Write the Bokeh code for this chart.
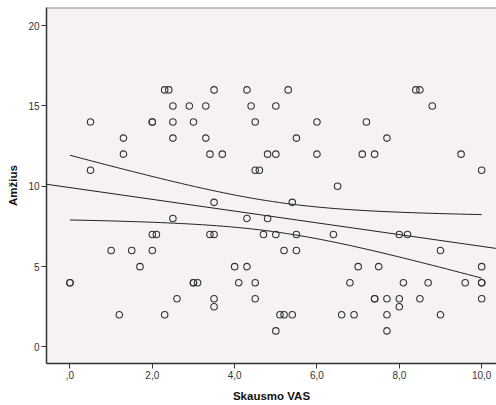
import numpy as np
from bokeh.plotting import figure
from bokeh.models import Range1d, FixedTicker, Span
from bokeh.embed import file_html
from bokeh.resources import INLINE

# Data (Skausmo VAS vs Amžius)
vas = [2.3, 2.4, 3.5, 4.3, 5.3, 8.4, 8.5,
       2.5, 2.9, 3.3, 4.4, 5.0, 8.8,
       0.5, 2.0, 2.0, 2.5, 3.0, 4.5, 6.0, 7.2,
       1.3, 2.5, 3.3, 5.5, 7.7,
       1.3, 3.4, 3.7, 4.8, 5.0, 6.0, 7.1, 7.4, 9.5,
       0.5, 4.5, 4.6, 10.0,
       6.5,
       3.5, 5.4,
       2.5, 4.3, 4.8,
       2.0, 2.1, 3.4, 3.5, 4.7, 5.0, 5.5, 6.4, 8.0, 8.2,
       1.0, 1.5, 2.0, 5.2, 5.5, 9.0,
       1.7, 4.0, 4.3, 7.0, 7.5, 10.0,
       0.0, 0.0, 3.0, 3.0, 3.1, 4.1, 4.5, 6.8, 8.1, 8.7, 9.6, 10.0, 10.0,
       2.6, 3.5, 4.5, 7.4, 7.4, 7.7, 8.0, 8.5, 10.0,
       3.5, 8.0,
       1.2, 2.3, 5.1, 5.2, 5.4, 6.6, 6.9, 7.7, 9.0,
       5.0, 7.7]
amzius = [16]*7 + [15]*6 + [14]*8 + [13]*5 + [12]*9 + [11]*4 + [10]*1 + [9]*2 + \
         [8]*3 + [7]*10 + [6]*6 + [5]*6 + [4]*13 + [3]*9 + [2.5]*2 + [2]*9 + [1]*2

x_ticks = [0, 2, 4, 6, 8, 10]
x_tick_labels = [",0", "2,0", "4,0", "6,0", "8,0", "10,0"]
y_ticks = [0, 5, 10, 15, 20]
y_tick_labels = ["0", "5", "10", "15", "20"]

x = np.array(vas, dtype=float)
y = np.array(amzius, dtype=float)
n = len(x)
slope, intercept = np.polyfit(x, y, 1)
resid = y - (intercept + slope * x)
s = np.sqrt(np.sum(resid ** 2) / (n - 2))
sxx = np.sum((x - x.mean()) ** 2)
t_crit = 1.982

x_lo, x_hi = -0.57, 10.36
y_lo, y_hi = -1.03, 21.13

p = figure(width=496, height=405, output_backend="svg", toolbar_location=None,
           x_range=Range1d(x_lo, x_hi), y_range=Range1d(y_lo, y_hi),
           min_border_left=46, min_border_right=0, min_border_top=7, min_border_bottom=42)
p.background_fill_color = "#F5F1F5"
p.border_fill_color = "white"
p.outline_line_color = None
p.grid.visible = False

font = "Liberation Sans"
for ax in (p.xaxis[0], p.yaxis[0]):
    ax.axis_line_color = "#333333"
    ax.axis_line_width = 1.5
    ax.major_tick_line_color = "#333333"
    ax.major_tick_out = 5
    ax.major_tick_in = 0
    ax.minor_tick_line_color = None
    ax.major_label_text_font = font
    ax.major_label_text_font_size = "10px"
    ax.major_label_text_color = "#333333"
    ax.axis_label_text_font = font
    ax.axis_label_text_font_style = "bold"
    ax.axis_label_text_font_size = "11.5px"
    ax.axis_label_text_color = "#111111"

p.xaxis.ticker = FixedTicker(ticks=x_ticks)
p.xaxis.major_label_overrides = dict(zip(x_ticks, x_tick_labels))
p.yaxis.ticker = FixedTicker(ticks=y_ticks)
p.yaxis.major_label_overrides = dict(zip(y_ticks, y_tick_labels))
p.xaxis.axis_label = "Skausmo VAS"
p.yaxis.axis_label = "Amžius"
p.xaxis.major_label_standoff = 2
p.xaxis.axis_label_standoff = 8
p.yaxis.major_label_standoff = 2
p.yaxis.axis_label_standoff = 6

# top frame line
p.add_layout(Span(location=y_hi, dimension="width", line_color="#8c8c8c", line_width=2))

# fit line across the frame
fx = np.array([x_lo, x_hi])
p.line(fx, intercept + slope * fx, line_color="#222222", line_width=1)

# 95% CI of the mean
cx = np.linspace(x.min(), x.max(), 60)
se = s * np.sqrt(1.0 / n + (cx - x.mean()) ** 2 / sxx)
fit = intercept + slope * cx
p.line(cx, fit + t_crit * se, line_color="#222222", line_width=1)
p.line(cx, fit - t_crit * se, line_color="#222222", line_width=1)

p.scatter(x, y, size=6.5, marker="circle", fill_color=None, line_color="#333333", line_width=1.1)

open("out.html", "w").write(file_html(p, INLINE))
